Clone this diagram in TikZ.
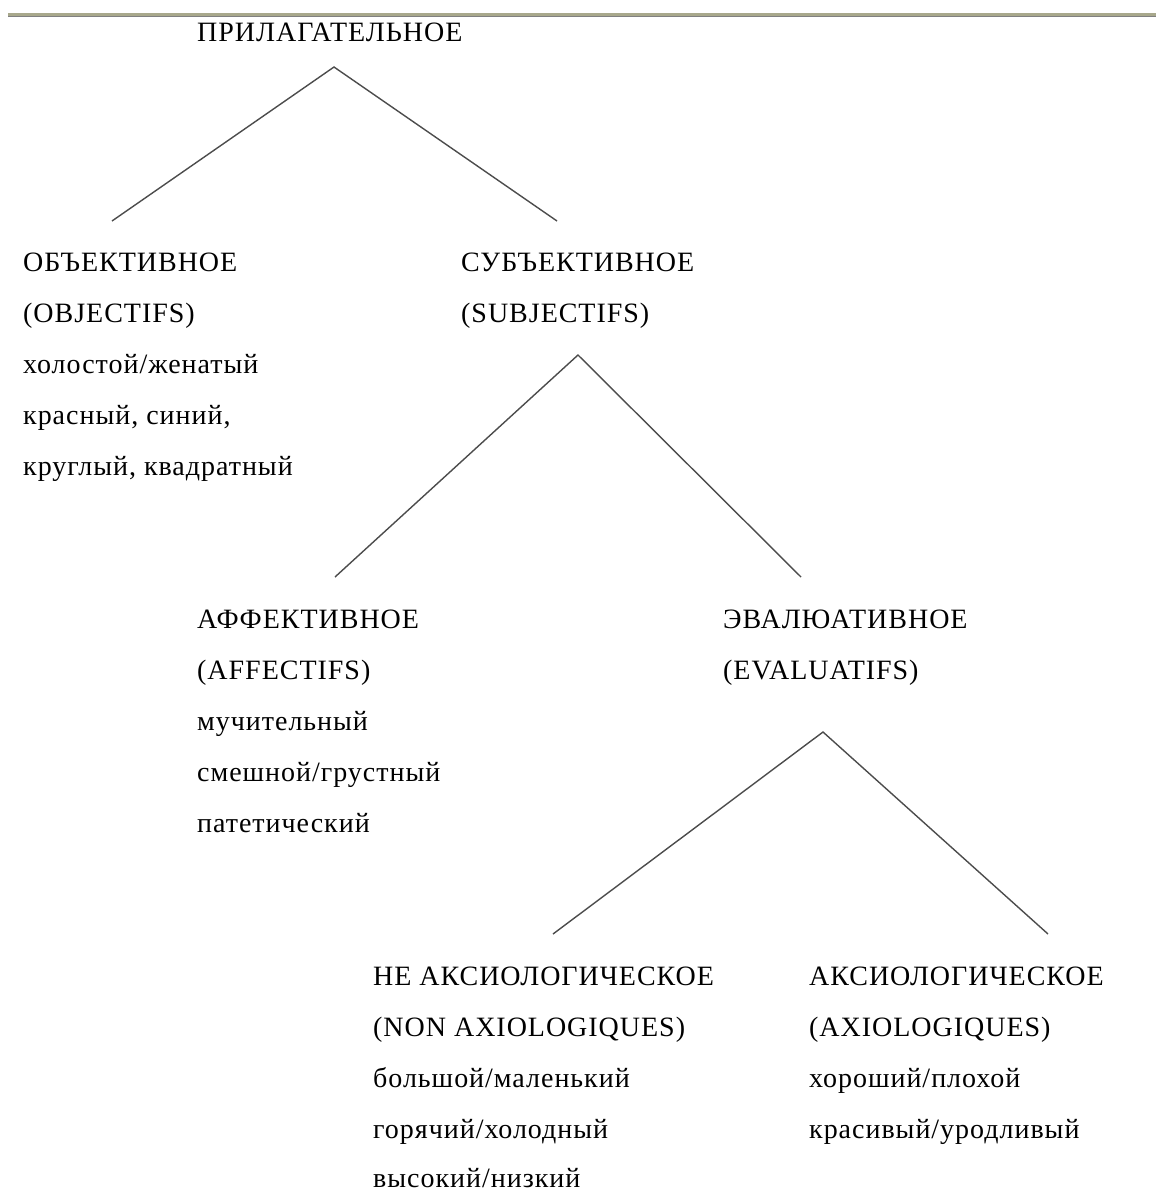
\documentclass[tikz,border=0pt]{standalone}
\usepackage{fontspec}
\setmainfont[LetterSpace=3.5]{Liberation Serif}
\begin{document}
\begin{tikzpicture}[x=1pt,y=-1pt,
  lbl/.style={anchor=base west,inner sep=0pt,font=\fontsize{28}{34}\selectfont},
  branch/.style={draw=black!70,line width=1.4pt}]
\useasboundingbox (0,0) rectangle (1156,1192);
% top rule
\fill[color={rgb,255:red,168;green,168;blue,140}] (8,13) rectangle (1156,16);
\draw[color={rgb,255:red,128;green,128;blue,128},line width=1pt] (8,16.5) -- (1156,16.5);
% title
\node[lbl] (title) at (197,41) {ПРИЛАГАТЕЛЬНОЕ};
% level 1
\coordinate (a1) at (334,67);
\coordinate (a1l) at (112,221);
\coordinate (a1r) at (557,221);
\draw[branch] (a1l) -- (a1) -- (a1r);
\node[lbl] (obj1) at (23,271) {ОБЪЕКТИВНОЕ};
\node[lbl] (obj2) at (23,322) {(OBJECTIFS)};
\node[lbl] (obj3) at (23,373) {холостой/женатый};
\node[lbl] (obj4) at (23,424) {красный, синий,};
\node[lbl] (obj5) at (23,475) {круглый, квадратный};
\node[lbl] (sub1) at (461,271) {СУБЪЕКТИВНОЕ};
\node[lbl] (sub2) at (461,322) {(SUBJECTIFS)};
% level 2
\coordinate (a2) at (578,355);
\coordinate (a2l) at (335,577);
\coordinate (a2r) at (801,577);
\draw[branch] (a2l) -- (a2) -- (a2r);
\node[lbl] (aff1) at (197,628) {АФФЕКТИВНОЕ};
\node[lbl] (aff2) at (197,679) {(AFFECTIFS)};
\node[lbl] (aff3) at (197,730) {мучительный};
\node[lbl] (aff4) at (197,781) {смешной/грустный};
\node[lbl] (aff5) at (197,832) {патетический};
\node[lbl] (eva1) at (723,628) {ЭВАЛЮАТИВНОЕ};
\node[lbl] (eva2) at (723,679) {(EVALUATIFS)};
% level 3
\coordinate (a3) at (823,732);
\coordinate (a3l) at (553,934);
\coordinate (a3r) at (1048,934);
\draw[branch] (a3l) -- (a3) -- (a3r);
\node[lbl] (nax1) at (373,985) {НЕ АКСИОЛОГИЧЕСКОЕ};
\node[lbl] (nax2) at (373,1036) {(NON AXIOLOGIQUES)};
\node[lbl] (nax3) at (373,1087) {большой/маленький};
\node[lbl] (nax4) at (373,1138) {горячий/холодный};
\node[lbl] (nax5) at (373,1187) {высокий/низкий};
\node[lbl] (ax1) at (809,985) {АКСИОЛОГИЧЕСКОЕ};
\node[lbl] (ax2) at (809,1036) {(AXIOLOGIQUES)};
\node[lbl] (ax3) at (809,1087) {хороший/плохой};
\node[lbl] (ax4) at (809,1138) {красивый/уродливый};
\end{tikzpicture}
\end{document}
